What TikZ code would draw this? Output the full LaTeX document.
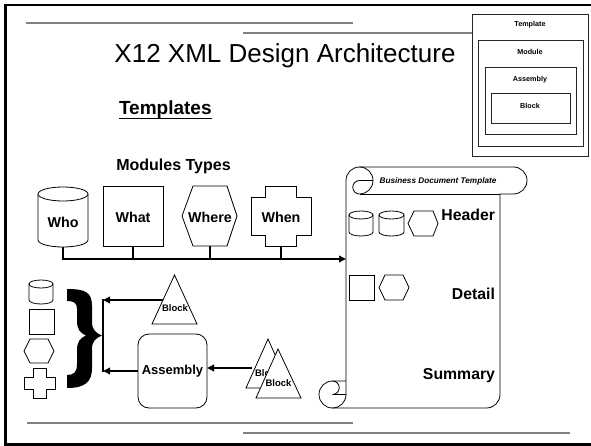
\documentclass[tikz,border=0pt]{standalone}
\usepackage{fontspec}
\setmainfont{Liberation Sans}
\usetikzlibrary{arrows.meta}
\definecolor{decogray}{RGB}{128,128,128}
\newcommand{\myfs}[1]{\fontsize{#1}{#1}\selectfont}
\tikzset{
  frm/.style={draw=black,line width=2.5pt},
  deco/.style={draw=decogray,line width=1.3pt},
  shp/.style={draw=black,line width=0.8pt,fill=white,line join=miter},
  ibox/.style={draw=black!85,line width=0.9pt,fill=white},
  conn/.style={draw=black,line width=1.8pt},
  arr/.style={conn,-{Triangle[length=7pt,width=6.5pt]}},
  anch/.style={draw=none,inner sep=0pt,outer sep=0pt},
  modlbl/.style={anch,font=\myfs{14.3}\bfseries},
  inlbl/.style={anch,font=\myfs{7.2}\bfseries},
  seclbl/.style={anch,font=\myfs{15.8}\bfseries,anchor=base east},
  blklbl/.style={anch,font=\myfs{9.5}\bfseries},
}
\begin{document}
\begin{tikzpicture}[x=1pt,y=-1pt]
\useasboundingbox (0,0) rectangle (591,446);
\fill[white] (0,0) rectangle (591,446);

% frame
\draw[frm] (592,5) -- (5.5,5) -- (5.5,444.5) -- (592,444.5);

% decorative lines
\draw[deco] (26,23) -- (353,23);
\draw[deco] (243,33) -- (472,33);
\draw[deco] (27,423) -- (353,423);
\draw[deco] (243,433) -- (570,433);

% title
\node[anch,font=\myfs{26},anchor=base] (title) at (285,63) {X12 XML Design Architecture};
\node[anch,font=\myfs{19}\bfseries,anchor=base west] (tpl) at (119,115) {Templates};
\draw[line width=1.5pt] ([yshift=-3.5pt]tpl.base west) -- ([yshift=-3.5pt]tpl.base east);

% inset nested boxes
\draw[ibox] (472,14) rectangle (588,156);
\draw[ibox] (478,40) rectangle (583,146);
\draw[ibox] (485,67) rectangle (576,134);
\draw[ibox] (491,93) rectangle (570,123);
\node[inlbl] (iT) at (530,25) {Template};
\node[inlbl] (iM) at (530,52) {Module};
\node[inlbl] (iA) at (530,80) {Assembly};
\node[inlbl] (iB) at (530,106) {Block};

% modules types
\node[anch,font=\myfs{16}\bfseries] (mt) at (173.5,166) {Modules Types};

% Who cylinder
\draw[shp] (38,194) -- (38,240) arc[start angle=180,end angle=0,x radius=25,y radius=7] -- (88,194);
\draw[shp] (63,194) ellipse[x radius=25,y radius=7];
\node[anch,minimum width=50pt,minimum height=60pt] (who) at (63,217) {};
\node[modlbl] (whoL) at (63,222) {Who};
% What square
\draw[shp] (103,186) rectangle (163,246);
\node[anch,minimum width=60pt,minimum height=60pt] (what) at (133,216) {};
\node[modlbl] (whatL) at (133,217) {What};
% Where hexagon
\draw[shp] (182,216) -- (193,186) -- (227,186) -- (237,216) -- (227,246) -- (193,246) -- cycle;
\node[anch,minimum width=55pt,minimum height=60pt] (where) at (210,216) {};
\node[modlbl] (whereL) at (210,217) {Where};
% When cross
\draw[shp] (265,186) -- (296,186) -- (296,197) -- (311,197) -- (311,235) -- (296,235) -- (296,246) -- (265,246) -- (265,235) -- (251,235) -- (251,197) -- (265,197) -- cycle;
\node[anch,minimum width=60pt,minimum height=60pt] (when) at (281,216) {};
\node[modlbl] (whenL) at (281,217) {When};

% scroll
\draw[shp,line join=round] (346,381) -- (346,180.5) arc[start angle=180,end angle=270,radius=13.5]
  -- (513.5,167) arc[start angle=270,end angle=450,radius=13.5] -- (500,194)
  -- (500,394.5) arc[start angle=0,end angle=90,radius=13.5] -- (332.5,408)
  arc[start angle=90,end angle=270,radius=13.5] -- cycle;
\draw[black,line width=0.8pt] (359.5,167) arc[start angle=270,end angle=450,radius=13.5]
  arc[start angle=90,end angle=270,radius=6.75] -- (373,180.5);
\draw[black,line width=0.8pt] (500,194) -- (359.5,194);
\draw[black,line width=0.8pt] (332.5,381) arc[start angle=270,end angle=450,radius=6.75] -- (346,394.5);
\draw[black,line width=0.8pt] (332.5,408) arc[start angle=90,end angle=0,radius=13.5] -- (346,381);
\node[anch,minimum width=154pt,minimum height=214pt] (scroll) at (423,301) {};
\node[anch,font=\myfs{8.2}\bfseries\itshape] (bdt) at (438,181) {Business Document Template};

% scroll contents
\draw[shp] (349,215) -- (349,232) arc[start angle=180,end angle=0,x radius=12,y radius=4] -- (373,215);
\draw[shp] (361,215) ellipse[x radius=12,y radius=4];
\draw[shp] (379,215) -- (379,232) arc[start angle=180,end angle=0,x radius=12.5,y radius=4] -- (404,215);
\draw[shp] (391.5,215) ellipse[x radius=12.5,y radius=4];
\draw[shp] (408,223.5) -- (414,211) -- (433,211) -- (438,223.5) -- (433,236) -- (414,236) -- cycle;
\draw[shp] (349,275) rectangle (374,300);
\draw[shp] (379,287.5) -- (385,275) -- (403,275) -- (409,287.5) -- (403,300) -- (385,300) -- cycle;
\node[seclbl] (hdr) at (495,221) {Header};
\node[seclbl] (dtl) at (495,299) {Detail};
\node[seclbl] (sum) at (495,379) {Summary};

% left column shapes
\draw[shp] (29,284) -- (29,300) arc[start angle=180,end angle=0,x radius=12,y radius=4] -- (53,284);
\draw[shp] (41,284) ellipse[x radius=12,y radius=4];
\draw[shp] (29,309) rectangle (54,334);
\draw[shp] (24,351) -- (30,339) -- (48,339) -- (54,351) -- (48,363) -- (30,363) -- cycle;
\draw[shp] (33,368) -- (46,368) -- (46,377) -- (55,377) -- (55,389) -- (46,389) -- (46,398) -- (33,398) -- (33,389) -- (24,389) -- (24,377) -- (33,377) -- cycle;

% brace
\fill[black] (67,289) .. controls (85,289) and (92,292) .. (92,306) -- (92,322)
  .. controls (92,330) and (96,333) .. (102,335.5)
  .. controls (96,338) and (92,341) .. (92,349) -- (92,368)
  .. controls (92,382) and (85,388) .. (67,388)
  -- (67,375) .. controls (74,375) and (77,372) .. (77,364) -- (77,350)
  .. controls (77,342) and (80,338) .. (86,335.5)
  .. controls (80,333) and (77,329) .. (77,321) -- (77,309)
  .. controls (77,303) and (74,301) .. (67,301) -- cycle;

% block triangle (upper)
\draw[shp] (174.5,275) -- (197,324) -- (152,324) -- cycle;
\node[blklbl] (blk1) at (175,308) {Block};
% assembly
\draw[shp,rounded corners=11pt] (138,334) rectangle (207,408);
\node[anch,minimum width=69pt,minimum height=74pt] (asm) at (172.5,371) {};
\node[anch,font=\myfs{13}\bfseries] (asmL) at (172.5,371) {Assembly};
% two stacked blocks
\draw[shp] (268,339) -- (290,388) -- (246,388) -- cycle;
\node[blklbl] (blk2) at (268,373) {Block};
\draw[shp] (278,349) -- (301,398) -- (256,398) -- cycle;
\node[blklbl] (blk3) at (278.5,383) {Block};

% connectors
\coordinate (bus) at (63,259);
\draw[conn] (who.south) -- (who.south |- bus);
\draw[conn] (what.south) -- (what.south |- bus);
\draw[conn] (where.south) -- (where.south |- bus);
\draw[conn] (when.south) -- (when.south |- bus);
\draw[arr] ([xshift=-0.9pt]who.south |- bus) -- (scroll.west |- bus);

\coordinate (braceTop) at (103,300);
\coordinate (braceBot) at (103,371);
\coordinate (blk1W) at (163,300);
\coordinate (blk2W) at (252,368);
\draw[arr] (blk1W) -- (braceTop);
\draw[arr] (asm.west) -- (braceBot);
\draw[conn] ([yshift=0.9pt]braceTop) -- ([yshift=-0.9pt]braceBot);
\draw[arr] (blk2W) -- (asm.east |- blk2W);
\end{tikzpicture}
\end{document}
